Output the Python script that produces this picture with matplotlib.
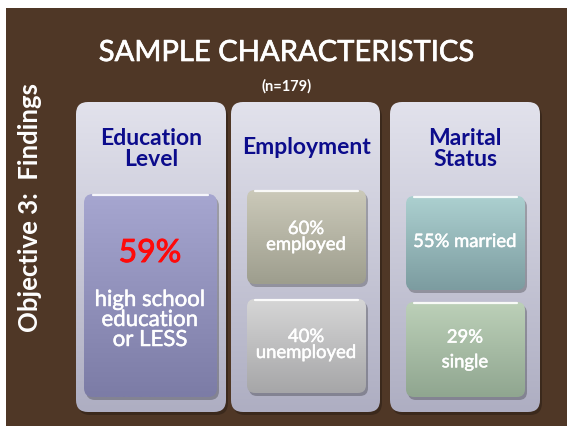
import numpy as np
import matplotlib
matplotlib.use("Agg")
import matplotlib.pyplot as plt
from matplotlib.patches import FancyBboxPatch, Rectangle
from matplotlib.colors import to_rgb
import matplotlib.patheffects as pe

# ---- content ----
title = "SAMPLE CHARACTERISTICS"
subtitle = "(n=179)"
side_label = "Objective 3:  Findings"
categories = ["Education\nLevel", "Employment", "Marital\nStatus"]
edu_pct = [59]
edu_text = ["high school\neducation\nor LESS"]
emp_pct = [60, 40]
emp_text = ["employed", "unemployed"]
mar_pct = [55, 29]
mar_text = ["married", "single"]

W, H = 567, 426
fig = plt.figure(figsize=(W / 100, H / 100), dpi=100)
ax = fig.add_axes([0, 0, 1, 1])
ax.set_xlim(0, W)
ax.set_ylim(H, 0)
ax.axis("off")
fig.patch.set_facecolor("white")

FONT = "Lato"


def thick(color, lw=0.7):
    return [pe.withStroke(linewidth=lw, foreground=color)]


# background
ax.add_patch(Rectangle((6, 8), W - 6, H - 8, facecolor="#4f3726", edgecolor="none", zorder=0))


def grad_box(x, y, w, h, c_top, c_bot, r, z=2, edge=None, highlight=False):
    shadow = FancyBboxPatch((x + 2, y + 3), w, h, boxstyle=f"round,pad=0,rounding_size={r}",
                            facecolor="black", alpha=0.25, edgecolor="none", zorder=z - 0.5)
    ax.add_patch(shadow)
    patch = FancyBboxPatch((x, y), w, h, boxstyle=f"round,pad=0,rounding_size={r}",
                           facecolor="none", edgecolor=edge if edge else "none",
                           linewidth=0.8, zorder=z + 0.2)
    ax.add_patch(patch)
    t = np.linspace(0, 1, 100)[:, None]
    ct, cb = np.array(to_rgb(c_top)), np.array(to_rgb(c_bot))
    img = (ct[None, :] * (1 - t) + cb[None, :] * t)[:, None, :]
    im = ax.imshow(img, extent=(x, x + w, y + h, y), origin="upper", aspect="auto",
                   zorder=z, interpolation="bilinear")
    im.set_clip_path(patch)
    if highlight:
        ax.plot([x + r, x + w - r], [y + 1.2, y + 1.2], color="white", lw=1.6,
                alpha=0.9, zorder=z + 0.3, solid_capstyle="round")
    return patch


# panels
panels = [(76, 102, 150, 310), (231, 102, 149, 310), (390, 102, 150, 310)]
for (px, py, pw, ph) in panels:
    grad_box(px, py, pw, ph, "#e2e2ec", "#aeaec2", 12, z=2)

# headers
navy = "#0c0c8c"
hdr = dict(ha="center", va="center", color=navy, fontsize=16.5, family=FONT,
           fontweight="bold", zorder=5)
ax.text(151, 149, categories[0], linespacing=1.05, **hdr)
ax.text(306, 148, categories[1], **hdr)
ax.text(465, 149, categories[2], linespacing=1.05, **hdr)

# inner boxes
grad_box(84, 194, 133, 203, "#a6a6d0", "#7c7ca6", 9, z=3, highlight=True)
grad_box(247, 190, 119, 94, "#cbc9b9", "#9e9e8e", 8, z=3, highlight=True)
grad_box(247, 299, 119, 94, "#d6d6d6", "#a6a6a8", 8, z=3, highlight=True)
grad_box(406, 196, 119, 94, "#acd0d0", "#7c9ca0", 8, z=3, highlight=True)
grad_box(406, 302, 119, 95, "#bcd0b8", "#90a690", 8, z=3, highlight=True)

# box texts
body = dict(ha="center", va="center", color="white", family=FONT, zorder=6,
            path_effects=thick("white", 0.35))
ax.text(150, 253, f"{edu_pct[0]}%", color="#ff0a0a", fontsize=23,
        ha="center", va="center", family=FONT, zorder=6,
        path_effects=thick("#ff0a0a", 0.7))
ax.text(150, 320, edu_text[0], fontsize=16, linespacing=1.0, **body)

ax.text(306, 237, f"{emp_pct[0]}%\n{emp_text[0]}", fontsize=13.3, linespacing=1.0, **body)
ax.text(306, 345, f"{emp_pct[1]}%\n{emp_text[1]}", fontsize=13.3, linespacing=1.0, **body)

ax.text(465, 242, f"{mar_pct[0]}% {mar_text[0]}", fontsize=13.3, **body)
ax.text(465, 350, f"{mar_pct[1]}%\n\n{mar_text[1]}", fontsize=13.3, linespacing=0.72, **body)

# title
ax.text(286, 53, title, ha="center", va="center", color="white", fontsize=21,
        family=FONT, zorder=6, path_effects=thick("white", 0.5))
ax.text(287, 86, subtitle, ha="center", va="center", color="white", fontsize=10.5,
        family=FONT, fontweight="bold", zorder=6)

# side label
ax.text(30, 208, side_label, ha="center", va="center", rotation=90, color="white",
        fontsize=18.5, family=FONT, fontweight="bold", zorder=6)

fig.savefig("out.png", dpi=100)
